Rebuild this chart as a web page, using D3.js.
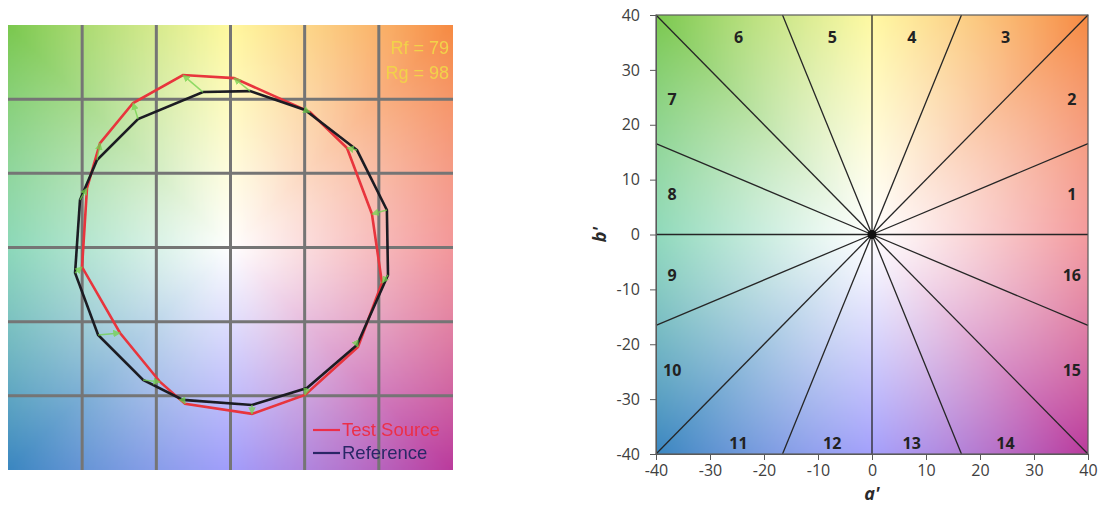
<!DOCTYPE html>
<html>
<head>
<meta charset="utf-8">
<script src="https://cdn.jsdelivr.net/npm/d3@7"></script>
<style>
  html, body { margin: 0; padding: 0; background: #fff; }
  svg { display: block; }
</style>
</head>
<body>
<svg id="chart" width="1108" height="507"></svg>
<script>
// ---- Colour vector graphic: normalised (a', b') of each hue bin ----
const refA  = [0.984, 0.796, 0.469, 0.123, -0.173, -0.582, -0.840, -0.947, -0.978, -0.833, -0.550, -0.299, 0.135, 0.481, 0.796, 0.991];
const refB  = [0.236, 0.613, 0.865, 0.984, 0.978, 0.808, 0.550, 0.299, -0.160, -0.550, -0.833, -0.959, -0.991, -0.884, -0.613, -0.173];
const testA = [0.890, 0.733, 0.500, 0.022, -0.299, -0.613, -0.821, -0.903, -0.934, -0.695, -0.443, -0.286, 0.135, 0.469, 0.802, 0.953];
const testB = [0.211, 0.626, 0.852, 1.066, 1.085, 0.909, 0.657, 0.374, -0.123, -0.538, -0.846, -0.984, -1.047, -0.928, -0.626, -0.223];
const metricLabels = ["Rf = 79", "Rg = 98"];
const legendNames = ["Test Source", "Reference"];

// ---- Hue-bin diagram ----
const axisTicks = [-40, -30, -20, -10, 0, 10, 20, 30, 40];
const binNumbers = d3.range(1, 17);
const binEdgeAngles = d3.range(0, 360, 22.5);

// Background hue palette, one stop every 45 degrees starting at +a'
const hueStops = [
  [238, 108, 112], [246, 138, 66], [255, 246, 118], [122, 200, 78],
  [92, 200, 156], [58, 134, 192], [122, 116, 250], [186, 58, 156]
];

function bgColor(u, v, gamma) {
  const ang = (Math.atan2(v, u) * 180 / Math.PI + 360) % 360;
  const i = Math.floor(ang / 45) % 8, f = (ang - i * 45) / 45;
  const c0 = hueStops[i], c1 = hueStops[(i + 1) % 8];
  const t = Math.pow(Math.min(1, Math.hypot(u, v) / Math.SQRT2), gamma);
  return [0, 1, 2].map(k => 255 + (c0[k] + (c1[k] - c0[k]) * f - 255) * t);
}

function hueImage(w, h, gamma) {
  const cv = document.createElement("canvas");
  cv.width = w; cv.height = h;
  const ctx = cv.getContext("2d");
  const img = ctx.createImageData(w, h);
  for (let y = 0; y < h; y++) {
    for (let x = 0; x < w; x++) {
      const c = bgColor((x + 0.5) / w * 2 - 1, 1 - (y + 0.5) / h * 2, gamma);
      const p = (y * w + x) * 4;
      img.data[p] = c[0]; img.data[p + 1] = c[1]; img.data[p + 2] = c[2]; img.data[p + 3] = 255;
    }
  }
  ctx.putImageData(img, 0, 0);
  return cv.toDataURL();
}

const svg = d3.select("#chart");
const defs = svg.append("defs");
defs.append("filter").attr("id", "soft")
  .append("feGaussianBlur").attr("stdDeviation", 0.7);
defs.append("marker").attr("id", "arrow")
  .attr("viewBox", "0 0 10 10").attr("refX", 9).attr("refY", 5)
  .attr("markerWidth", 5).attr("markerHeight", 5).attr("orient", "auto")
  .append("path").attr("d", "M0,0 L10,5 L0,10 z").attr("fill", "#72d24c");

// ================= Left: colour vector graphic =================
const L = { x0: 8, x1: 453, y0: 25, y1: 470 };
const lx = d3.scaleLinear().domain([-1.4, 1.4]).range([L.x0, L.x1]);
const ly = d3.scaleLinear().domain([-1.4, 1.4]).range([L.y1, L.y0]);
const left = svg.append("g");

left.append("image")
  .attr("x", L.x0).attr("y", L.y0)
  .attr("width", L.x1 - L.x0).attr("height", L.y1 - L.y0)
  .attr("preserveAspectRatio", "none")
  .attr("href", hueImage(200, 200, 1.0));

const soft = left.append("g").attr("filter", "url(#soft)");
const gridVals = d3.range(1, 6).map(i => -1.4 + i * 2.8 / 6);
soft.selectAll("line.gv").data(gridVals).join("line")
  .attr("x1", d => lx(d)).attr("x2", d => lx(d))
  .attr("y1", L.y0).attr("y2", L.y1)
  .attr("stroke", "#747474").attr("stroke-width", 3);
soft.selectAll("line.gh").data(gridVals).join("line")
  .attr("y1", d => ly(d)).attr("y2", d => ly(d))
  .attr("x1", L.x0).attr("x2", L.x1)
  .attr("stroke", "#747474").attr("stroke-width", 3);

const refPts = refA.map((a, i) => [a, refB[i]]);
const testPts = testA.map((a, i) => [a, testB[i]]);
const poly = d3.line().x(d => lx(d[0])).y(d => ly(d[1])).curve(d3.curveLinearClosed);

soft.append("path").attr("d", poly(testPts))
  .attr("fill", "none").attr("stroke", "#e8343c").attr("stroke-width", 2.6);
soft.append("path").attr("d", poly(refPts))
  .attr("fill", "none").attr("stroke", "#1b1b24").attr("stroke-width", 2.6);
soft.selectAll("line.vec").data(refPts).join("line")
  .attr("x1", d => lx(d[0])).attr("y1", d => ly(d[1]))
  .attr("x2", (d, i) => lx(testPts[i][0])).attr("y2", (d, i) => ly(testPts[i][1]))
  .attr("stroke", "#72d24c").attr("stroke-width", 1.5).attr("opacity", 0.75)
  .attr("marker-end", "url(#arrow)");

soft.selectAll("text.metric").data(metricLabels).join("text")
  .attr("x", 449).attr("y", (d, i) => 54 + i * 25)
  .attr("text-anchor", "end")
  .attr("font-family", "Liberation Sans, Arial, sans-serif")
  .attr("font-size", 18).attr("fill", "#f2d24a")
  .text(d => d);

const legendColors = ["#ec2f48", "#2a2766"];
legendNames.forEach((name, i) => {
  const yy = 430 + i * 23;
  soft.append("line").attr("x1", 313).attr("x2", 340).attr("y1", yy).attr("y2", yy)
    .attr("stroke", legendColors[i]).attr("stroke-width", 2.2);
  soft.append("text").attr("x", 342).attr("y", yy + 6)
    .attr("font-family", "Liberation Sans, Arial, sans-serif")
    .attr("font-size", 18.5).attr("fill", legendColors[i])
    .text(name);
});

// ================= Right: hue-bin diagram =================
const P = { x0: 656, x1: 1088, y0: 15, y1: 454 };
const x = d3.scaleLinear().domain([-40, 40]).range([P.x0, P.x1]);
const y = d3.scaleLinear().domain([-40, 40]).range([P.y1, P.y0]);
const right = svg.append("g");

right.append("image")
  .attr("x", P.x0).attr("y", P.y0)
  .attr("width", P.x1 - P.x0).attr("height", P.y1 - P.y0)
  .attr("preserveAspectRatio", "none")
  .attr("href", hueImage(216, 220, 1.1));

// bin boundaries: rays from the origin to the frame
const lim = 40;
const rayEnd = d => {
  const r = d * Math.PI / 180, s = lim / Math.max(Math.abs(Math.cos(r)), Math.abs(Math.sin(r)));
  return [s * Math.cos(r), s * Math.sin(r)];
};
right.selectAll("line.edge").data(binEdgeAngles).join("line")
  .attr("x1", x(0)).attr("y1", y(0))
  .attr("x2", d => x(rayEnd(d)[0]))
  .attr("y2", d => y(rayEnd(d)[1]))
  .attr("stroke", "#262626").attr("stroke-width", 1.3);

right.append("circle").attr("cx", x(0)).attr("cy", y(0)).attr("r", 4.5).attr("fill", "#111");

right.append("rect")
  .attr("x", P.x0).attr("y", P.y0).attr("width", P.x1 - P.x0).attr("height", P.y1 - P.y0)
  .attr("fill", "none").attr("stroke", "#5a5a5a").attr("stroke-width", 1.2);

// bin numbers placed along each bin's centre direction near the frame
right.selectAll("text.bin").data(binNumbers).join("text")
  .each(function (k) {
    const r = (k - 0.5) * 22.5 * Math.PI / 180;
    const c = Math.cos(r), s = Math.sin(r);
    let a, b;
    if (Math.abs(c) >= Math.abs(s)) { a = Math.sign(c) * 37; b = a * s / c; }
    else { b = s > 0 ? 37 : -37; a = b * c / s; b = s > 0 ? 36 : -38; }
    d3.select(this).attr("x", x(a)).attr("y", y(b));
  })
  .attr("text-anchor", "middle").attr("dominant-baseline", "central")
  .attr("font-family", "'Open Sans', Lato, sans-serif")
  .attr("font-weight", "bold").attr("font-size", 16).attr("fill", "#222")
  .text(d => d);

const axisFont = g => g.selectAll("text")
  .attr("font-family", "'Open Sans', Lato, sans-serif")
  .attr("font-size", 16).attr("fill", "#404040");

right.append("g").attr("transform", `translate(${P.x0},0)`)
  .call(d3.axisLeft(y).tickValues(axisTicks).tickSize(6).tickPadding(10).tickFormat(d => String(d)))
  .call(g => g.select(".domain").attr("stroke", "#5a5a5a"))
  .call(g => g.selectAll(".tick line").attr("stroke", "#5a5a5a"))
  .call(axisFont);

right.append("g").attr("transform", `translate(0,${P.y1})`)
  .call(d3.axisBottom(x).tickValues(axisTicks).tickSize(6).tickPadding(5).tickFormat(d => String(d)))
  .call(g => g.select(".domain").attr("stroke", "#5a5a5a"))
  .call(g => g.selectAll(".tick line").attr("stroke", "#5a5a5a"))
  .call(axisFont);

right.append("text")
  .attr("x", x(0)).attr("y", 500)
  .attr("text-anchor", "middle")
  .attr("font-family", "'Open Sans', Lato, sans-serif")
  .attr("font-weight", "bold").attr("font-style", "italic")
  .attr("font-size", 18).attr("fill", "#2a2a2a")
  .text("a'");

right.append("text")
  .attr("transform", `translate(606,${y(0)}) rotate(-90)`)
  .attr("text-anchor", "middle")
  .attr("font-family", "'Open Sans', Lato, sans-serif")
  .attr("font-weight", "bold").attr("font-style", "italic")
  .attr("font-size", 18).attr("fill", "#2a2a2a")
  .text("b'");
</script>
</body>
</html>
